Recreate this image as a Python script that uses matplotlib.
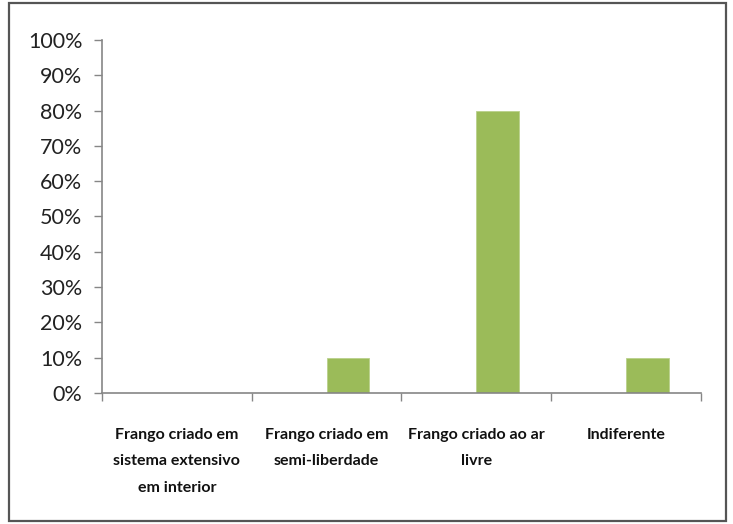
import matplotlib

matplotlib.use("Agg")
import matplotlib.pyplot as plt
from matplotlib.patches import Rectangle
from matplotlib.ticker import FuncFormatter

categories = [
    "Frango criado em\nsistema extensivo\nem interior",
    "Frango criado em\nsemi-liberdade",
    "Frango criado ao ar\nlivre",
    "Indiferente",
]
values = [0.0, 10.0, 80.0, 10.0]
yticks = [0, 10, 20, 30, 40, 50, 60, 70, 80, 90, 100]

plt.rcParams["font.family"] = ["Lato", "DejaVu Sans"]

GREEN = "#9BBB59"
AXIS = "#868686"

fig = plt.figure(figsize=(7.33, 5.24), dpi=100)
ax = fig.add_axes([0.139, 0.25, 0.8173, 0.6737])

x = list(range(len(categories)))
ax.bar(x, values, width=0.285, align="edge", color=GREEN, edgecolor="#B9D18B", linewidth=0.6)

ax.set_xlim(-0.5, len(categories) - 0.5)
ax.set_ylim(0, 100)
ax.set_yticks(yticks)
ax.yaxis.set_major_formatter(FuncFormatter(lambda v, _: f"{v:.0f}%"))
ax.tick_params(axis="y", labelsize=15.5, labelcolor="#222222", color=AXIS, length=6, width=1, pad=8)

# category boundaries as ticks, labels at centers
ax.set_xticks([i - 0.5 for i in range(len(categories) + 1)])
ax.set_xticklabels([])
ax.tick_params(axis="x", color=AXIS, length=6, width=1)
for i, lab in enumerate(categories):
    ax.text(i, -9.8, lab, ha="center", va="top", fontsize=11.5, fontweight="bold",
            color="#111111", linespacing=2.15, transform=ax.transData)

for side in ("top", "right"):
    ax.spines[side].set_visible(False)
for side in ("left", "bottom"):
    ax.spines[side].set_color(AXIS)
    ax.spines[side].set_linewidth(1.2)

# outer chart frame
fig.patches.append(Rectangle((9 / 733, 3 / 524), 717 / 733, 518 / 524, transform=fig.transFigure,
                             fill=False, edgecolor="#555555", linewidth=1.6))

fig.savefig("out.png", dpi=100)
